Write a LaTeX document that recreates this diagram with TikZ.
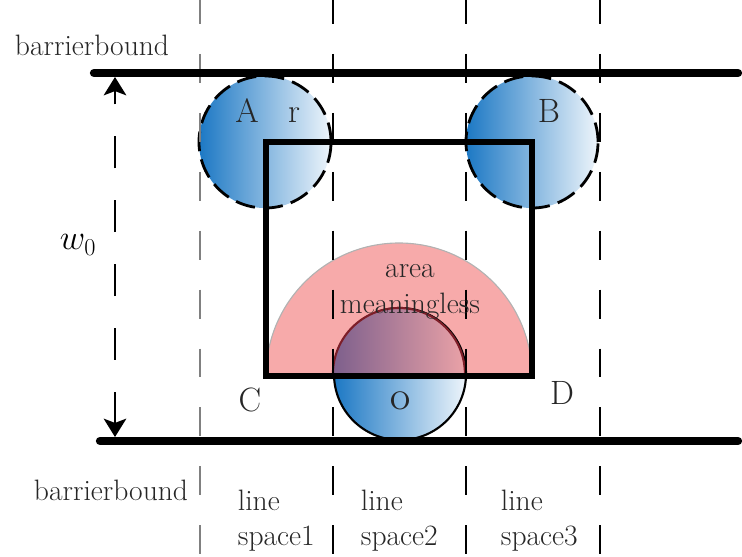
\documentclass[tikz,border=0pt]{standalone}
\usepackage{amsmath}
\usepackage{tikz}
\usepackage{xcolor}
\usetikzlibrary{arrows.meta}

\definecolor{ballblue}{RGB}{28,120,196}
\definecolor{ballpale}{RGB}{238,245,251}
\definecolor{areapink}{RGB}{247,170,170}
\definecolor{mixleft}{RGB}{125,95,140}
\definecolor{mixright}{RGB}{234,162,167}
\definecolor{rimred}{RGB}{125,30,40}

\begin{document}
\begin{tikzpicture}[x=0.025cm, y=-0.025cm,
  bound/.style={line width=5.9pt, line cap=round},
  lane/.style={line width=1.6pt, dash pattern=on 20.6pt off 21.3pt},
  ball/.style={circle, inner sep=0pt, minimum size=3.3cm, left color=ballblue, right color=ballpale},
  txt/.style={font=\fontsize{21}{25}\selectfont, text=black!85},
  pt/.style={font=\fontsize{24}{28}\selectfont, text=black!85}
]
\useasboundingbox (0,0) rectangle (742,557);
% meaningless area
\fill[areapink] (266,376) arc (180:360:133) -- cycle;
\draw[gray!60, line width=0.8pt] (266,376) arc (180:360:133);
% the three balls
\node[ball, draw, line width=2pt, dash pattern=on 14pt off 6pt] (A) at (265,142) {};
\node[ball, draw, line width=2pt, dash pattern=on 14pt off 6pt] (B) at (532,142) {};
\node[ball, draw=black, line width=1.5pt] (O) at (400,374) {};
\shade[left color=mixleft, right color=mixright] (O.west) arc (180:360:66) -- cycle;
\draw[rimred, line width=1.5pt] (O.west) arc (180:360:66);
% line spaces
\foreach \n/\x in {0/200,1/333,2/466,3/600} {
  \coordinate (t\n) at (\x,-5);
  \coordinate (b\n) at (\x,562);
}
\draw[lane, gray] (t0) -- (b0);
\foreach \n in {1,2,3} \draw[lane] (t\n) -- (b\n);
% barriers
\coordinate (tl) at (94,73);
\coordinate (tr) at (738,73);
\coordinate (bl) at (100,441);
\coordinate (br) at (738,441);
\draw[bound] (tl) -- (tr);
\draw[bound] (bl) -- (br);
% square
\coordinate (sqA) at (266,142);
\coordinate (sqB) at (532,142);
\coordinate (sqC) at (266,376);
\coordinate (sqD) at (532,376);
\draw[line width=3.6pt, line join=miter] (sqC) -- (sqA) -- (sqB) -- (sqD) -- cycle;
% width arrow
\coordinate (wt) at (115,437);
\coordinate (wb) at (115,77);
\draw[line width=1.9pt, dash pattern=on 22.7pt off 22.7pt,
  {Stealth[width=16pt,length=13pt,inset=3pt]}-{Stealth[width=16pt,length=13pt,inset=3pt]}] (wt) -- (wb);
% labels
\node[txt] (topbd) at (92,45) {barrierbound};
\node[txt] (botbd) at (111,490) {barrierbound};
\node[pt] (lA) at (247,111) {A};
\node[pt] (lr) at (294,115) {r};
\node[pt] (lB) at (549,111) {B};
\node[pt] (lC) at (250,400) {C};
\node[pt] (lD) at (562,393) {D};
\node[pt] (lO) at (400,401) {\textsc{o}};
\node[txt, align=center] (area) at (410,292) {area\\meaningless};
\node[font=\fontsize{27}{31}\selectfont] (w0) at (78,245) {$w_0$};
\node[txt, align=left, anchor=north west] (ls1) at (233,485) {line\\space1};
\node[txt, align=left, anchor=north west] (ls2) at (356,485) {line\\space2};
\node[txt, align=left, anchor=north west] (ls3) at (496,485) {line\\space3};
\end{tikzpicture}
\end{document}
